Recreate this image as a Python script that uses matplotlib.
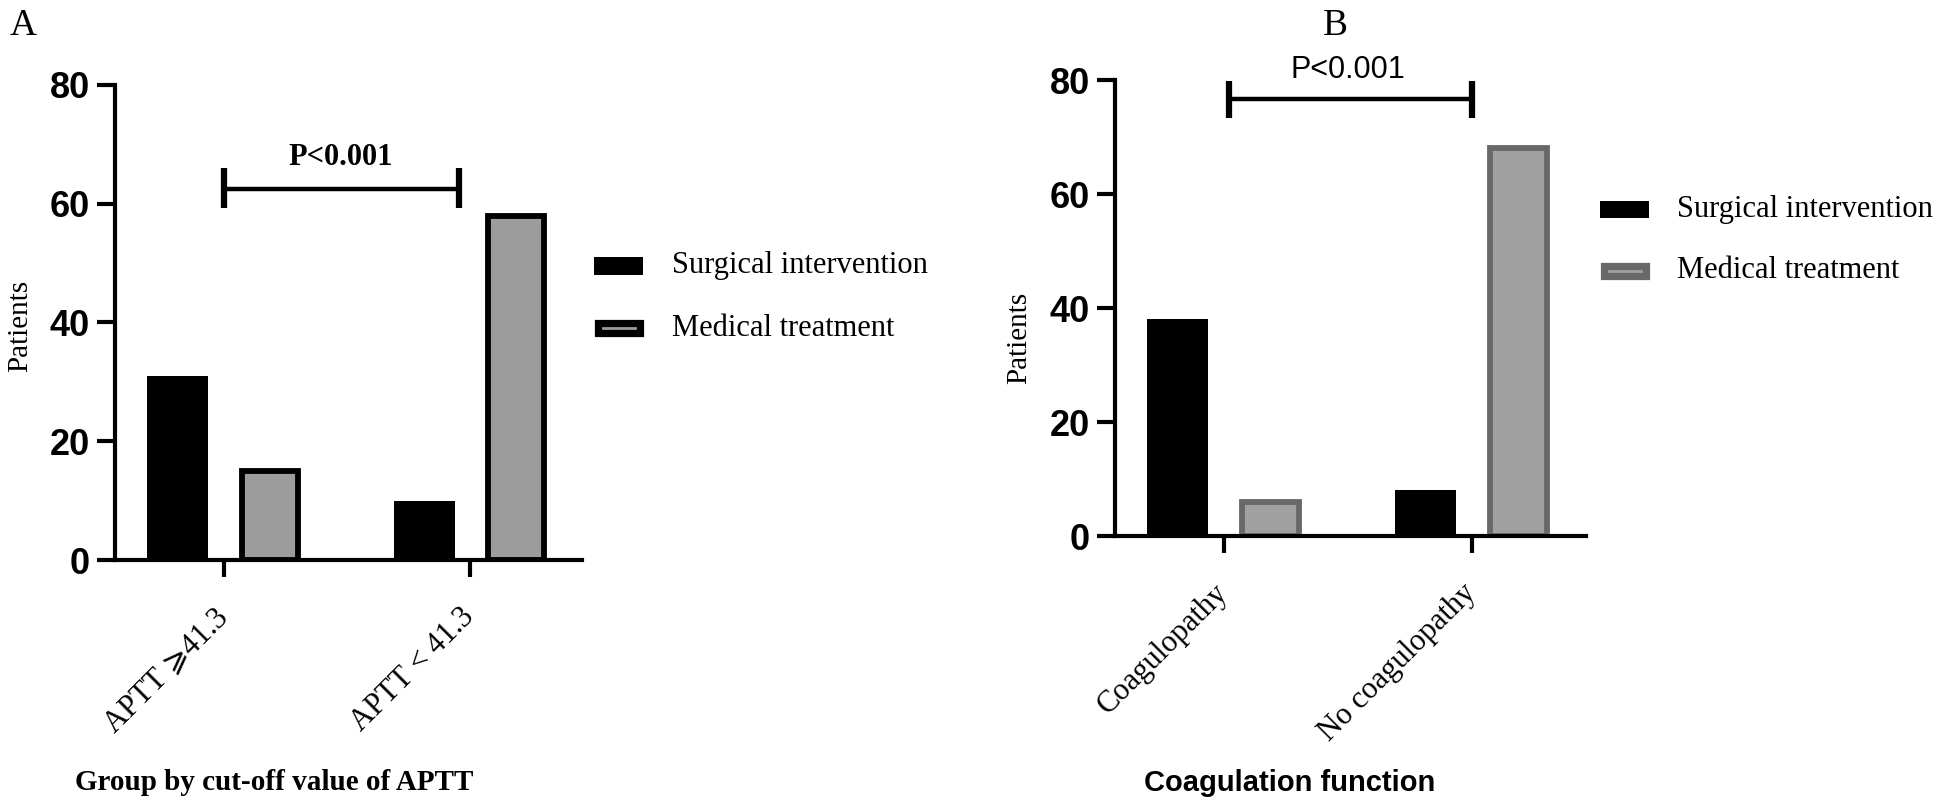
import numpy as np
import matplotlib
matplotlib.use("Agg")
import matplotlib.pyplot as plt
from matplotlib.patches import Rectangle

# ---------------- data ----------------
series_names = ["Surgical intervention", "Medical treatment"]

a_categories = ["APTT \u2A7E41.3", "APTT < 41.3"]
a_surgical = [31, 10]
a_medical = [15, 58]
a_xlabel = "Group by cut-off value of APTT"

b_categories = ["Coagulopathy", "No coagulopathy"]
b_surgical = [38, 8]
b_medical = [6, 68]
b_xlabel = "Coagulation function"

y_ticks = [0, 20, 40, 60, 80]
p_text = "P<0.001"
y_label = "Patients"

# ---------------- layout ----------------
W, H = 1943, 810
fig = plt.figure(figsize=(W / 100, H / 100), dpi=100)
fig.patch.set_facecolor("white")

SERIF = ["Liberation Serif", "DejaVu Serif", "DejaVu Sans"]
SANS = ["Liberation Sans", "DejaVu Sans"]


def px_axes(x0, y_top, x1, y_bot):
    return fig.add_axes([x0 / W, 1 - y_bot / H, (x1 - x0) / W, (y_bot - y_top) / H])


def style_axes(ax, xlim):
    ax.set_xlim(*xlim)
    ax.set_ylim(0, 80)
    ax.set_yticks(y_ticks)
    for s in ("top", "right"):
        ax.spines[s].set_visible(False)
    for s in ("left", "bottom"):
        ax.spines[s].set_linewidth(3.0)
        ax.spines[s].set_zorder(5)
        ax.spines[s].set_capstyle("projecting")
    ax.tick_params(axis="y", length=13, width=3.0, pad=5, labelsize=26)
    ax.tick_params(axis="x", length=12, width=3.0, pad=26)
    for lab in ax.get_yticklabels():
        lab.set_fontfamily(SANS)
        lab.set_fontweight("bold")


def draw_bars(ax, surg, med, med_face, med_edge):
    x = np.arange(len(surg))
    off, w = 0.187, 0.248
    ax.bar(x - off, surg, width=w, color="black", linewidth=0, zorder=3)
    ax.bar(x + off, med, width=w * 0.93, facecolor=med_face, edgecolor=med_edge,
           linewidth=4.2, zorder=3)
    return x


def set_cats(ax, x, cats):
    ax.set_xticks(x)
    ax.set_xticklabels(cats, rotation=45, ha="right", va="center",
                       rotation_mode="anchor", fontsize=22, family=SERIF)


def bracket(ax, x0, x1, y, cap_lo, cap_hi):
    ax.plot([x0, x1], [y, y], color="black", lw=3.2, solid_capstyle="butt", zorder=4)
    ax.vlines([x0, x1], cap_lo, cap_hi, color="black", lw=4.5, zorder=4)


def legend(x_patch, y_rows, x_text, face2, edge2):
    pw, ph = 49, 17
    for i, y in enumerate(y_rows):
        if i == 0:
            r = Rectangle((x_patch / W, 1 - (y + ph / 2) / H), pw / W, ph / H,
                          transform=fig.transFigure, facecolor="black",
                          edgecolor="black", linewidth=0)
        else:
            r = Rectangle(((x_patch + 3.5) / W, 1 - (y + ph / 2 - 3.5) / H), (pw - 7) / W,
                          (ph - 7) / H, transform=fig.transFigure, facecolor=face2,
                          edgecolor=edge2, linewidth=5.2)
        fig.add_artist(r)
        fig.text(x_text / W, 1 - y / H, series_names[i], fontsize=22, family=SERIF,
                 ha="left", va="center")


# ---------------- panel A ----------------
axA = px_axes(115, 85, 582, 560)
style_axes(axA, (-0.443, 1.455))
xA = draw_bars(axA, a_surgical, a_medical, "#9c9c9c", "black")
set_cats(axA, xA, a_categories)
bracket(axA, 0.0, 0.955, 62.5, 59.2, 66.0)
axA.text(0.476, 67.8, p_text, ha="center", va="center", fontsize=22,
         fontweight="bold", family=SERIF)
fig.text(20 / W, 1 - 326 / H, y_label, fontsize=21, family=SERIF, rotation=90,
         ha="center", va="center")
fig.text(274 / W, 1 - 783 / H, a_xlabel, fontsize=21, fontweight="bold", family=SERIF,
         ha="center", va="center")
legend(594, [266, 328], 672, "#9c9c9c", "black")
fig.text(10 / W, 1 - 26 / H, "A", fontsize=27, family=SERIF, ha="left", va="center")

# ---------------- panel B ----------------
axB = px_axes(1115, 80, 1586, 536)
style_axes(axB, (-0.44, 1.46))
xB = draw_bars(axB, b_surgical, b_medical, "#a0a0a0", "#686868")
set_cats(axB, xB, b_categories)
bracket(axB, 0.02, 1.0, 76.6, 73.3, 79.8)
axB.text(0.5, 81.8, p_text, ha="center", va="center", fontsize=22, family=SANS)
fig.text(1019 / W, 1 - 338 / H, y_label, fontsize=21, family=SERIF, rotation=90,
         ha="center", va="center")
fig.text(1290 / W, 1 - 783 / H, b_xlabel, fontsize=21, fontweight="bold", family=SANS,
         ha="center", va="center")
legend(1600, [209, 271], 1677, "#a0a0a0", "#686868")
fig.text(1323 / W, 1 - 26 / H, "B", fontsize=27, family=SERIF, ha="left", va="center")

fig.savefig("out.png", dpi=100, facecolor="white")
